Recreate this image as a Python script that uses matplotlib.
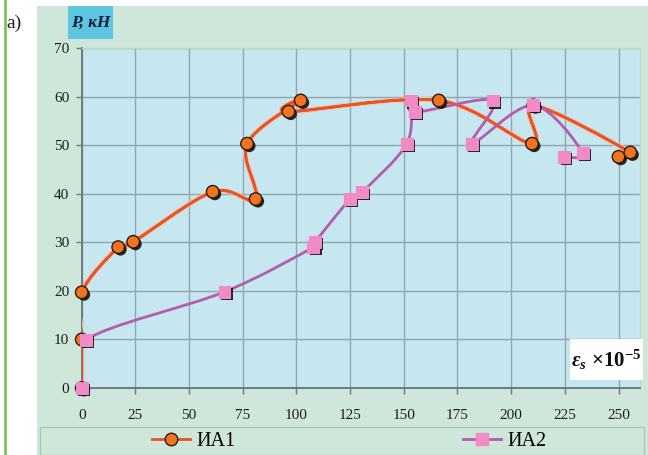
import numpy as np
import matplotlib
matplotlib.use("Agg")
import matplotlib.pyplot as plt
from matplotlib.path import Path
from matplotlib.patches import PathPatch, Rectangle
from matplotlib.lines import Line2D
from matplotlib.font_manager import FontProperties
import matplotlib.patheffects as pe

# Load P (kN) against reinforcement strain (x1e-5) for the two test beams
ia1_strain = [0, 0, 0, 17.0, 24.0, 61.0, 81.0, 77.0, 102.0, 96.3, 166.3, 209.7, 210.3, 255.5, 250.0]
ia1_load = [0, 10.0, 19.7, 29.0, 30.1, 40.4, 38.9, 50.3, 59.2, 56.9, 59.2, 50.3, 58.2, 48.5, 47.6]

ia2_strain = [0, 2.0, 66.5, 107.9, 108.8, 125.0, 130.5, 151.4, 153.4, 155.3, 191.5, 181.7, 210.3, 233.4, 224.7]
ia2_load = [0, 9.9, 19.8, 29.0, 30.1, 38.9, 40.3, 50.3, 59.2, 56.8, 59.2, 50.3, 58.2, 48.4, 47.6]

series_names = ["ИА1", "ИА2"]
x_ticks = [0, 25, 50, 75, 100, 125, 150, 175, 200, 225, 250]
y_ticks = [0, 10, 20, 30, 40, 50, 60, 70]

plt.rcParams["mathtext.fontset"] = "custom"
plt.rcParams["mathtext.rm"] = "Liberation Serif:bold"
plt.rcParams["mathtext.it"] = "Liberation Serif:italic:bold"
plt.rcParams["mathtext.bf"] = "Liberation Serif:bold"

SERIF = ["Liberation Serif", "DejaVu Serif"]
W, H = 648, 455


def fx(px):
    return px / W


def fy(py):
    return 1 - py / H


def smooth_path(xs, ys):
    """Cubic Bezier path through the points (Catmull-Rom style smoothing)."""
    p = np.column_stack([xs, ys]).astype(float)
    n = len(p)
    verts = [p[0]]
    codes = [Path.MOVETO]
    for i in range(n - 1):
        p0 = p[i - 1] if i > 0 else p[i]
        p1, p2 = p[i], p[i + 1]
        p3 = p[i + 2] if i + 2 < n else p[i + 1]
        verts += [p1 + (p2 - p0) / 6.0, p2 - (p3 - p1) / 6.0, p2]
        codes += [Path.CURVE4] * 3
    return Path(verts, codes)


fig = plt.figure(figsize=(6.48, 4.55), dpi=100)
fig.patch.set_facecolor("white")

# chart area and legend strip
fig.add_artist(Rectangle((fx(37), 0), 1 - fx(37), fy(6), transform=fig.transFigure,
                         facecolor="#cfe7da", edgecolor="none", zorder=0))
fig.add_artist(Rectangle((fx(40), 0.0), fx(644) - fx(40), fy(427), transform=fig.transFigure,
                         facecolor="#cfe7da", edgecolor="#aac8b8", lw=1.0, zorder=0.5))
fig.add_artist(Line2D([fx(5), fx(5)], [0, 1], transform=fig.transFigure,
                      color="#7cc45a", lw=2.0))
fig.text(fx(6), fy(23), "а)", fontsize=14, family=SERIF, color="#222222",
         ha="left", va="center")

ax = fig.add_axes([fx(81.7), fy(388), fx(640) - fx(81.7), fy(48) - fy(388)])
ax.set_facecolor("#c6e6f0")
ax.set_xlim(0, 260)
ax.set_ylim(0, 70)
ax.set_xticks(x_ticks)
ax.set_yticks(y_ticks)
ax.grid(True, color="#8fa7b0", lw=1.0)
ax.set_axisbelow(True)
for side in ["top", "right"]:
    ax.spines[side].set_color("#b8d8d0")
    ax.spines[side].set_linewidth(1.0)
for side in ["left", "bottom"]:
    ax.spines[side].set_color("#6e7a7e")
    ax.spines[side].set_linewidth(1.4)
ax.tick_params(axis="x", length=4, width=1, color="#6e7a7e", pad=11)
ax.tick_params(axis="y", length=4, width=1, color="#6e7a7e", pad=5)
for lab in ax.get_xticklabels() + ax.get_yticklabels():
    lab.set_family(SERIF)
    lab.set_fontsize(11)
    lab.set_color("#1e1e1e")

orange_line = "#e5552a"
pink_line = "#b45cb0"
orange_face = "#f2741f"
pink_face = "#f28ac6"

shadow = [pe.SimplePatchShadow(offset=(1.6, -1.6), shadow_rgbFace="#111111", alpha=0.9),
          pe.Normal()]

# smoothed connecting curves
ax.add_patch(PathPatch(smooth_path(ia1_strain, ia1_load), facecolor="none",
                       edgecolor=orange_line, lw=2.0, zorder=3,
                       path_effects=[pe.withStroke(linewidth=3.6, foreground="#f6c4a8"),
                                     pe.Normal()]))
ax.add_patch(PathPatch(smooth_path(ia2_strain, ia2_load), facecolor="none",
                       edgecolor=pink_line, lw=2.0, zorder=3))

# markers
ax.plot(ia1_strain, ia1_load, ls="none", marker="o", ms=9, mfc=orange_face,
        mec="#2a1a10", mew=1.0, zorder=4, path_effects=shadow, clip_on=False)
ax.plot(ia2_strain, ia2_load, ls="none", marker="s", ms=8.5, mfc=pink_face,
        mec=pink_face, mew=0.8, zorder=5, path_effects=shadow, clip_on=False)

# axis titles
fig.add_artist(Rectangle((fx(68), fy(39)), fx(113) - fx(68), fy(6) - fy(39),
                         transform=fig.transFigure, facecolor="#5cc6e0",
                         edgecolor="none", zorder=1))
fig.text(fx(90.5), fy(22.5), "P, кН", fontsize=12.5, family=SERIF, weight="bold",
         style="italic", color="#1c1c3a", ha="center", va="center", zorder=2)

fig.add_artist(Rectangle((fx(570), fy(380)), fx(643) - fx(570), fy(339) - fy(380),
                         transform=fig.transFigure, facecolor="white",
                         edgecolor="none", zorder=6))
fig.text(fx(606), fy(360), r"$\varepsilon_s\ \mathrm{\times 10^{-5}}$", fontsize=15,
         color="#111111", ha="center", va="center", zorder=7)

# legend
handles = [
    Line2D([], [], color=orange_line, lw=2.0, marker="o", ms=9, mfc=orange_face,
           mec="#2a1a10", mew=1.0),
    Line2D([], [], color=pink_line, lw=2.0, marker="s", ms=8.5, mfc=pink_face,
           mec=pink_face),
]
fig.legend(handles, series_names, loc="center", bbox_to_anchor=(fx(349), fy(441)),
           ncol=2, frameon=False, handlelength=1.9, handletextpad=0.3,
           columnspacing=11.3, prop=FontProperties(family=SERIF, size=14.5))

fig.savefig("out.png", dpi=100)
